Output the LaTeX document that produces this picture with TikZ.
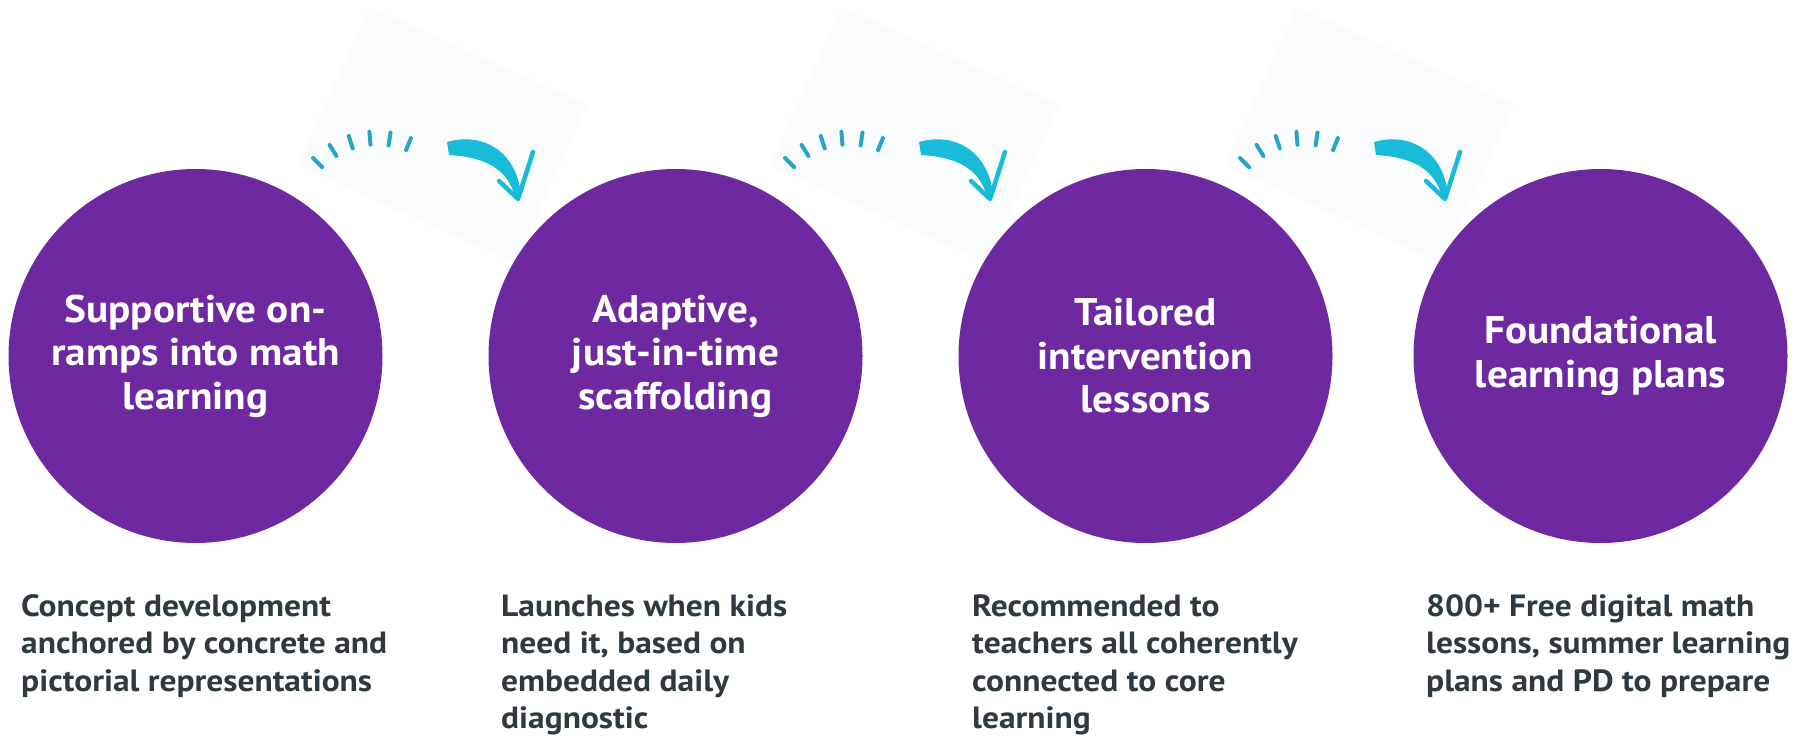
\documentclass[tikz,border=0pt]{standalone}
\usepackage{fontspec}
\setmainfont{PT Sans}
\newfontfamily\circfont[FakeStretch=1.07]{PT Sans}
\newfontfamily\descfont[FakeStretch=1.09]{PT Sans}
\usetikzlibrary{calc}
\definecolor{purp}{RGB}{111,41,160}
\definecolor{ink}{RGB}{46,58,64}
\definecolor{cyanA}{RGB}{25,188,216}
\definecolor{cyanT}{RGB}{38,166,198}
\definecolor{patchc}{RGB}{250,251,252}
\newcommand{\firstline}{\rule{0pt}{28pt}}
\tikzset{
  swoosh/.pic={
    \fill[patchc] (370,7) -- (587,105) -- (515,263) -- (298,165) -- cycle;
    \foreach \a in {135,121.6,108.2,94.8,81.4,68}
      \draw[tickmark] ({377+77.5*cos(\a)},{222-77.5*sin(\a)}) -- ({377+90.5*cos(\a)},{222-90.5*sin(\a)});
    \fill[cyanA] (447,142) .. controls (486,131) and (518,155) .. (521,196)
      -- (515,197) .. controls (508,169) and (485,157) .. (449,155) -- cycle;
    \draw[cyanA,line width=4.5pt,line cap=round,line join=round] (499,181) -- (518,199) -- (533,152);
  }
}
\begin{document}
\begin{tikzpicture}[x=1pt,y=-1pt,
  circ/.style={circle,fill=purp,minimum size=374pt,inner sep=0pt,text=white,align=center,
    font=\circfont\bfseries\fontsize{38.5}{43.5}\selectfont},
  desc/.style={anchor=north west,inner sep=0pt,align=left,text=ink,
    font=\descfont\bfseries\fontsize{30.7}{37.5}\selectfont},
  tickmark/.style={cyanT,line width=4pt,line cap=round}]
  \fill[white] (0,0) rectangle (1801,738);
  \useasboundingbox (0,0) rectangle (1801,738);
  \pic at (0,0) {swoosh};
  \pic at (472,0) {swoosh};
  \pic at (927,0) {swoosh};
  \node[circ] (c1) at (195.5,356) {Supportive on-\\ramps into math\\learning};
  \node[circ] (c2) at (675.5,356) {Adaptive,\\just-in-time\\scaffolding};
  \node[circ] (c3) at (1145.5,356) {Tailored\\intervention\\lessons};
  \node[circ] (c4) at (1600.5,356) {Foundational\\learning plans};
  \node[desc] (d1) at (21,588) {\firstline Concept development\\anchored by concrete and\\pictorial representations};
  \node[desc] (d2) at (501,588) {\firstline Launches when kids\\need it, based on\\embedded daily\\diagnostic};
  \node[desc] (d3) at (972,588) {\firstline Recommended to\\teachers all coherently\\connected to core\\learning};
  \node[desc] (d4) at (1426,588) {\firstline 800+ Free digital math\\lessons, summer learning\\plans and PD to prepare};
\end{tikzpicture}
\end{document}
